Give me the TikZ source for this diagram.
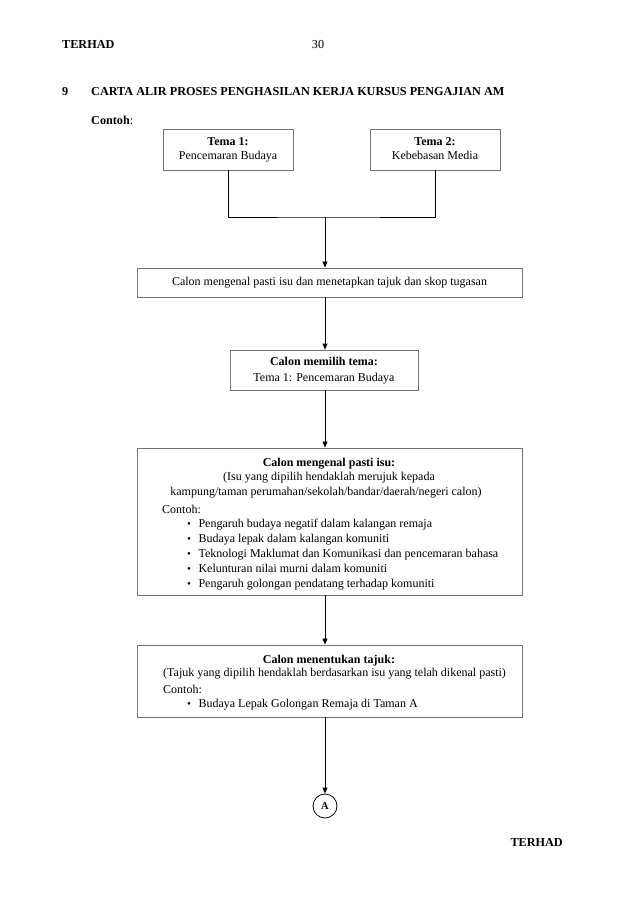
\documentclass[tikz,border=0pt]{standalone}
\usepackage{fontspec}
\setmainfont{Liberation Serif}
\usetikzlibrary{arrows.meta}
\newcommand{\bulmark}{{\fontsize{11}{10}\selectfont\textbullet}\hspace{7.5pt}}
\begin{document}
\begin{tikzpicture}[x=1pt,y=-1pt,
  box/.style={draw=black!55,line width=0.9pt,inner sep=0pt,align=center,font=\fontsize{12}{14}\selectfont},
  txt/.style={inner sep=0pt,font=\fontsize{12}{14}\selectfont},
  head/.style={inner sep=0pt,font=\fontsize{12.2}{14}\selectfont},
  conn/.style={line width=0.8pt},
  arr/.style={conn,-{Triangle[length=6pt,width=5pt]}},
  bul/.style={txt,anchor=base west}]
\useasboundingbox[fill=white] (0,0) rectangle (638,903);
% header
\node[head,anchor=base west] (hd) at (62,48) {\textbf{TERHAD}};
\node[head,anchor=base] (pg) at (318,48) {30};
\node[head,anchor=base west] (num) at (62,95) {\textbf{9}};
\node[head,anchor=base west] (title) at (91,95) {\textbf{CARTA ALIR PROSES PENGHASILAN KERJA KURSUS PENGAJIAN AM}};
\node[head,anchor=base west] (ct) at (91,124) {\textbf{Contoh}:};
\node[head,anchor=base east] (ft) at (563,846) {\textbf{TERHAD}};
% boxes
\node[box,minimum width=130pt,minimum height=41pt] (t1) at (228,149.5) {\textbf{Tema 1:}\strut\\Pencemaran Budaya\strut};
\node[box,minimum width=130pt,minimum height=41pt] (t2) at (435,149.5) {\textbf{Tema 2:}\strut\\Kebebasan Media\strut};
\node[box,minimum width=385pt,minimum height=29pt] (b2) at (329.5,282.5) {Calon mengenal pasti isu dan menetapkan tajuk dan skop tugasan\strut};
\node[box,minimum width=188pt,minimum height=40pt,font=\fontsize{12}{16}\selectfont] (b3) at (324,370) {\textbf{Calon memilih tema:}\strut\\Tema 1: Pencemaran Budaya\strut};
\node[box,minimum width=385pt,minimum height=147pt] (b4) at (329.5,521.5) {};
\node[box,minimum width=385pt,minimum height=72pt] (b5) at (329.5,681) {};
\node[draw,circle,minimum size=24pt,inner sep=0pt,line width=0.8pt,font=\fontsize{10.5}{12}\selectfont] (A) at (325,806) {\textbf{A}};
% box 4 text
\node[txt,anchor=base] (b4a) at (329,466) {\textbf{Calon mengenal pasti isu:}};
\node[txt,anchor=base] (b4b) at (329,480) {(Isu yang dipilih hendaklah merujuk kepada};
\node[txt,anchor=base] (b4c) at (326,495) {kampung/taman perumahan/sekolah/bandar/daerah/negeri calon)};
\node[txt,anchor=base west] (b4d) at (162,513) {Contoh:};
\node[bul] (b4e) at (187,527) {\bulmark Pengaruh budaya negatif dalam kalangan remaja};
\node[bul] (b4f) at (187,542) {\bulmark Budaya lepak dalam kalangan komuniti};
\node[bul] (b4g) at (187,557) {\bulmark Teknologi Maklumat dan Komunikasi dan pencemaran bahasa};
\node[bul] (b4h) at (187,572) {\bulmark Kelunturan nilai murni dalam komuniti};
\node[bul] (b4i) at (187,587) {\bulmark Pengaruh golongan pendatang terhadap komuniti};
% box 5 text
\node[txt,anchor=base] (b5a) at (329,663) {\textbf{Calon menentukan tajuk:}};
\node[txt,anchor=base west] (b5b) at (163,676) {(Tajuk yang dipilih hendaklah berdasarkan isu yang telah dikenal pasti)};
\node[txt,anchor=base west] (b5c) at (163,693) {Contoh:};
\node[bul] (b5d) at (187,707) {\bulmark Budaya Lepak Golongan Remaja di Taman A};
% connectors
\coordinate (j) at (325,217);
\draw[conn] (t1.south) |- (j) -| (t2.south);
\draw[arr] (j) -- (j |- b2.north);
\draw[arr] (j |- b2.south) -- (j |- b3.north);
\draw[arr] (j |- b3.south) -- (j |- b4.north);
\draw[arr] (j |- b4.south) -- (j |- b5.north);
\draw[arr] (j |- b5.south) -- (A.north);
\end{tikzpicture}
\end{document}
